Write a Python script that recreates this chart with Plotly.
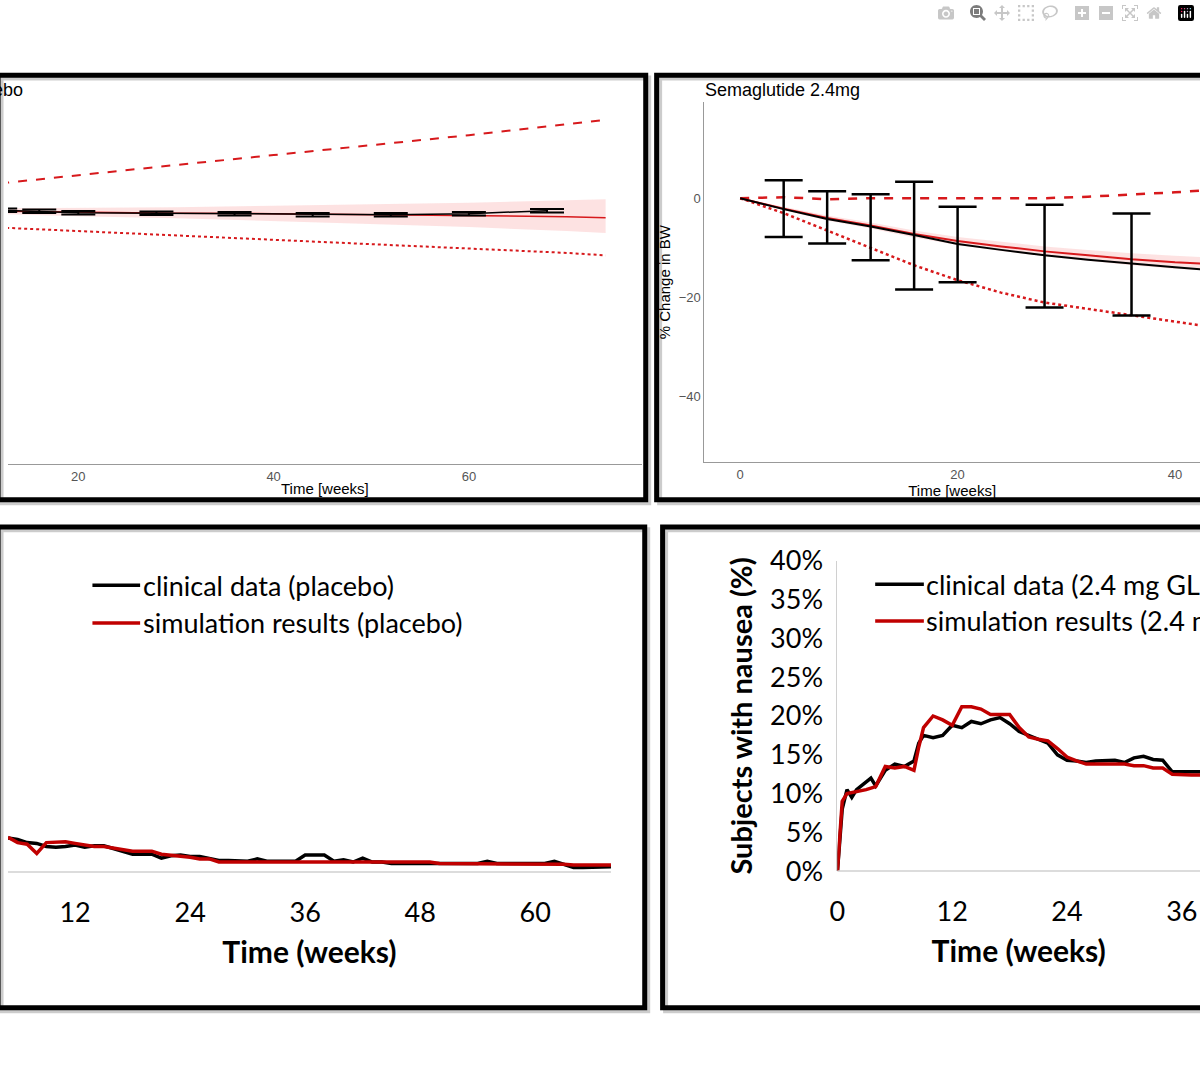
import plotly.graph_objects as go

W, H = 1200, 1080

# ---- top left: placebo body weight ----
pb_t = [12, 20, 30, 40, 50, 60, 70, 74]
pb_sim = [-2.6, -2.8, -3.0, -3.1, -3.3, -3.4, -3.7, -3.9]
pb_lo = [-3.2, -3.6, -4.0, -4.6, -5.2, -5.8, -6.6, -7.0]
pb_hi = [-2.0, -1.9, -1.8, -1.5, -1.2, -0.9, -0.4, -0.2]
pb_p95 = [3.0, 4.7, 6.7, 8.7, 10.7, 12.7, 14.9, 15.8]
pb_p5 = [-5.9, -6.6, -7.5, -8.4, -9.3, -10.1, -11.0, -11.5]
pb_obs_t = [12, 16, 20, 28, 36, 44, 52, 60, 68]
pb_obs = [-2.4, -2.6, -2.9, -3.0, -3.1, -3.3, -3.3, -3.1, -2.5]

# ---- top right: semaglutide body weight ----
sg_t = [0, 4, 8, 12, 16, 20, 24, 28, 32, 36, 40, 43]
sg_obs_line = [0, -2.2, -4.2, -5.7, -7.4, -9.2, -10.4, -11.5, -12.4, -13.2, -13.9, -14.4]
sg_sim = [0, -2.1, -4.0, -5.5, -7.2, -8.6, -9.7, -10.7, -11.5, -12.3, -12.9, -13.2]
sg_band = [0, 0.3, 0.5, 0.6, 0.7, 0.8, 0.9, 1.0, 1.1, 1.2, 1.3, 1.3]
sg_p95 = [0, 0.2, -0.2, 0, 0, 0, 0, 0, 0.3, 0.7, 1.2, 1.6]
sg_p5 = [0, -3, -6.5, -10, -13.5, -16.5, -19, -21, -22.3, -23.5, -24.8, -25.8]
sg_bar_t = [4, 8, 12, 16, 20, 28, 36]
sg_bar_top = [3.6, 1.4, 0.8, 3.3, -1.7, -1.3, -3.1]
sg_bar_bot = [-7.8, -9.1, -12.5, -18.4, -16.9, -22.0, -23.6]

# ---- bottom left: nausea placebo ----
pl_t = list(range(5, 69))
pl_clin = [4.4, 4.2, 3.8, 3.7, 3.3, 3.2, 3.3, 3.5, 3.2, 3.4, 3.4, 3.0, 2.7, 2.3, 2.3, 2.3,
           1.8, 2.1, 2.2, 2.0, 2.0, 1.7, 1.5, 1.5, 1.5, 1.4, 1.7, 1.4, 1.4, 1.4, 1.4, 2.2,
           2.2, 2.2, 1.4, 1.6, 1.3, 1.8, 1.3, 1.3, 1.1, 1.1, 1.1, 1.1, 1.1, 1.1, 1.1, 1.1,
           1.1, 1.1, 1.4, 1.1, 1.1, 1.1, 1.1, 1.1, 1.1, 1.4, 1.0, 0.6, 0.6, 0.6, 0.6, 0.7]
pl_sim = [4.5, 3.8, 3.6, 2.4, 3.8, 3.9, 3.9, 3.7, 3.5, 3.3, 3.3, 3.1, 2.9, 2.7, 2.7, 2.7,
          2.3, 2.2, 2.0, 1.9, 1.7, 1.7, 1.3, 1.3, 1.3, 1.3, 1.3, 1.3, 1.3, 1.3, 1.3, 1.3,
          1.3, 1.3, 1.3, 1.3, 1.3, 1.3, 1.3, 1.3, 1.3, 1.3, 1.3, 1.3, 1.3, 1.1, 1.1, 1.1,
          1.1, 1.1, 1.1, 1.1, 1.1, 1.1, 1.1, 1.1, 1.1, 1.1, 1.0, 0.9, 0.9, 0.9, 0.9, 0.9]

# ---- bottom right: nausea semaglutide ----
sn_t = [0, 0.5, 1, 1.5, 2, 3, 3.5, 4, 5, 6, 7, 8, 8.5, 9, 10, 11, 12, 13, 14, 15, 16, 17,
        18, 19, 20, 21, 22, 23, 24, 25, 26, 27, 28, 29, 30, 31, 32, 33, 34, 35, 36, 37, 38]
sn_clin = [0, 8, 10.5, 9.5, 10.5, 11.5, 12, 11, 13, 13.8, 13.5, 14.2, 16.5, 17.5, 17.2,
           17.5, 18.8, 18.5, 19.3, 19, 19.5, 19.8, 19, 18, 17.5, 17, 16.5, 15, 14.3, 14.2,
           14, 14.2, 14.3, 14.3, 14, 14.6, 14.8, 14.4, 14.3, 12.8, 12.8, 12.8, 12.8]
sn_sim = [0, 9, 10, 10.1, 10.2, 10.5, 10.7, 10.9, 13.5, 13.3, 13.5, 13, 16, 18.5, 20,
          19.5, 18.8, 21.2, 21.2, 20.9, 20.2, 20.2, 20.2, 18.5, 17.3, 17, 16.8, 15.8, 14.7,
          14.2, 13.8, 13.8, 13.8, 13.8, 13.8, 13.6, 13.6, 13.3, 13.3, 12.5, 12.4, 12.4, 12.4]
pct_ticks = [0, 5, 10, 15, 20, 25, 30, 35, 40]

RED = '#d7191c'
DARKRED = '#c00000'
GREY = '#555555'


def px(x):
    return x / W


def py(y):
    return 1 - y / H


fig = go.Figure()

# top left
fig.add_trace(go.Scatter(x=pb_t + pb_t[::-1], y=pb_hi + pb_lo[::-1], fill='toself', mode='lines',
                         fillcolor='rgba(240,60,60,0.15)', line=dict(width=0),
                         xaxis='x', yaxis='y', hoverinfo='skip'))
fig.add_trace(go.Scatter(x=pb_t, y=pb_p95, mode='lines', line=dict(color=RED, width=2, dash='dash'),
                         xaxis='x', yaxis='y'))
fig.add_trace(go.Scatter(x=pb_t, y=pb_p5, mode='lines', line=dict(color=RED, width=2, dash='dot'),
                         xaxis='x', yaxis='y'))
fig.add_trace(go.Scatter(x=pb_t, y=pb_sim, mode='lines', line=dict(color=RED, width=1.5),
                         xaxis='x', yaxis='y'))
fig.add_trace(go.Scatter(x=pb_obs_t, y=pb_obs, mode='lines', line=dict(color='black', width=1.5),
                         error_y=dict(type='constant', value=0.35, color='black', thickness=2, width=17),
                         xaxis='x', yaxis='y'))

# top right
lo = [s - b for s, b in zip(sg_sim, sg_band)]
hi = [s + b for s, b in zip(sg_sim, sg_band)]
fig.add_trace(go.Scatter(x=sg_t + sg_t[::-1], y=hi + lo[::-1], fill='toself', mode='lines',
                         fillcolor='rgba(240,60,60,0.15)', line=dict(width=0),
                         xaxis='x2', yaxis='y2', hoverinfo='skip'))
fig.add_trace(go.Scatter(x=sg_t, y=sg_p95, mode='lines', line=dict(color=RED, width=2.5, dash='dash'),
                         xaxis='x2', yaxis='y2'))
fig.add_trace(go.Scatter(x=sg_t, y=sg_p5, mode='lines', line=dict(color=RED, width=2.5, dash='dot'),
                         xaxis='x2', yaxis='y2'))
fig.add_trace(go.Scatter(x=sg_t, y=sg_sim, mode='lines', line=dict(color=RED, width=2),
                         xaxis='x2', yaxis='y2'))
fig.add_trace(go.Scatter(x=sg_t, y=sg_obs_line, mode='lines', line=dict(color='black', width=2),
                         xaxis='x2', yaxis='y2'))
mid = [(a + b) / 2 for a, b in zip(sg_bar_top, sg_bar_bot)]
half = [(a - b) / 2 for a, b in zip(sg_bar_top, sg_bar_bot)]
fig.add_trace(go.Scatter(x=sg_bar_t, y=mid, mode='markers', marker=dict(size=1, color='black'),
                         error_y=dict(type='data', array=half, color='black', thickness=2.5, width=19),
                         xaxis='x2', yaxis='y2'))

# bottom left
fig.add_trace(go.Scatter(x=pl_t, y=pl_clin, mode='lines', line=dict(color='black', width=3.5),
                         xaxis='x3', yaxis='y3'))
fig.add_trace(go.Scatter(x=pl_t, y=pl_sim, mode='lines', line=dict(color=DARKRED, width=3.5),
                         xaxis='x3', yaxis='y3'))

# bottom right
fig.add_trace(go.Scatter(x=sn_t, y=sn_clin, mode='lines', line=dict(color='black', width=3.5),
                         xaxis='x4', yaxis='y4'))
fig.add_trace(go.Scatter(x=sn_t, y=sn_sim, mode='lines', line=dict(color=DARKRED, width=3.5),
                         xaxis='x4', yaxis='y4'))

rfont = dict(family='Arial', size=13, color=GREY)
rtitle = dict(family='Arial', size=15, color='black')
cfont = dict(family='Lato', size=27, color='black')

fig.update_layout(
    width=W, height=H, margin=dict(l=0, r=0, t=0, b=0),
    paper_bgcolor='white', plot_bgcolor='white', showlegend=False,
    xaxis=dict(domain=[px(0), px(638)], range=[12.8, 77.7], tickvals=[20, 40, 60],
               showline=True, linecolor='#999999', showgrid=False, zeroline=False,
               tickfont=rfont, ticks='', anchor='y',
               title=dict(text='Time [weeks]', font=rtitle, standoff=0)),
    yaxis=dict(domain=[py(460), py(62)], range=[-53.5, 24.2], visible=False, anchor='x'),
    xaxis2=dict(domain=[px(701), px(1200)], range=[-3.3, 42.3], tickvals=[0, 20, 40],
                showline=True, linecolor='#999999', showgrid=False, zeroline=False,
                tickfont=rfont, ticks='', anchor='y2',
                title=dict(text='Time [weeks]', font=rtitle, standoff=0)),
    yaxis2=dict(domain=[py(458), py(87)], range=[-53.1, 19.3], tickvals=[0, -20, -40],
                showline=True, linecolor='#999999', showgrid=False, zeroline=False,
                tickfont=rfont, ticks='', anchor='x2',
                title=dict(text='% Change in BW', font=rtitle, standoff=4)),
    xaxis3=dict(domain=[px(0), px(607)], range=[5.0, 67.9], tickvals=[12, 24, 36, 48, 60],
                showline=False, showgrid=False, zeroline=False, ticks='', anchor='y3',
                tickfont=cfont, ticklabelstandoff=22,
                title=dict(text='<b>Time (weeks)</b>', font=dict(family='Lato', size=30, color='black'), standoff=14)),
    yaxis3=dict(domain=[py(881), py(561)], range=[0, 40], visible=False, anchor='x3'),
    xaxis4=dict(domain=[px(835), px(1200)], range=[0, 37.9], tickvals=[0, 12, 24, 36],
                showline=False, showgrid=False, zeroline=False, ticks='', anchor='y4',
                tickfont=cfont, ticklabelstandoff=22,
                title=dict(text='<b>Time (weeks)</b>', font=dict(family='Lato', size=30, color='black'), standoff=14)),
    yaxis4=dict(domain=[py(880), py(560)], range=[0, 40], tickvals=pct_ticks,
                ticktext=[f'{v}%' for v in pct_ticks], showline=True, linecolor='#d0d0d0',
                showgrid=False, zeroline=False, ticks='', tickfont=cfont, anchor='x4',
                ticklabelstandoff=8,
                title=dict(text='<b>Subjects with nausea (%)</b>', font=dict(family='Lato', size=29, color='black'), standoff=8)),
)

# baselines for the nausea charts
shapes = [dict(type='line', xref='paper', yref='paper', x0=px(0), x1=px(607), y0=py(881), y1=py(881),
               line=dict(color='#d0d0d0', width=1.5)),
          dict(type='line', xref='paper', yref='paper', x0=px(835), x1=px(1200), y0=py(880), y1=py(880),
               line=dict(color='#d0d0d0', width=1.5))]

# panel frames
for x0, x1, y0, y1 in [(-10, 642, 59, 497), (653, 1215, 59, 497), (-10, 641, 525, 1021), (659, 1215, 525, 1021)]:
    shapes.append(dict(type='rect', xref='paper', yref='paper', x0=px(x0 + 3), x1=px(x1 + 3),
                       y0=py(y0 + 3), y1=py(y1 + 3), line=dict(color='rgba(0,0,0,0.2)', width=5)))
    shapes.append(dict(type='rect', xref='paper', yref='paper', x0=px(x0), x1=px(x1),
                       y0=py(y0), y1=py(y1), line=dict(color='black', width=5)))

# legend keys
for x0, x1, y, c in [(85, 133, 585, 'black'), (85, 133, 624, DARKRED),
                     (873, 922, 584, 'black'), (873, 922, 622, DARKRED)]:
    shapes.append(dict(type='line', xref='paper', yref='paper', x0=px(x0), x1=px(x1),
                       y0=py(y), y1=py(y), line=dict(color=c, width=3.5)))
fig.update_layout(shapes=shapes)

ann = [
    dict(text='Placebo', x=px(17), y=py(74), xanchor='right', font=dict(family='Arial', size=18, color='black')),
    dict(text='Semaglutide 2.4mg', x=px(700), y=py(74), xanchor='left', font=dict(family='Arial', size=18, color='black')),
    dict(text='clinical data (placebo)', x=px(134), y=py(585), xanchor='left', font=cfont),
    dict(text='simulation results (placebo)', x=px(134), y=py(624), xanchor='left', font=cfont),
    dict(text='clinical data (2.4 mg GLP-1)', x=px(922), y=py(584), xanchor='left', font=cfont),
    dict(text='simulation results (2.4 mg GLP-1)', x=px(922), y=py(622), xanchor='left', font=cfont),
]
for a in ann:
    a.update(xref='paper', yref='paper', yanchor='middle', showarrow=False)
fig.update_layout(annotations=ann)

fig.write_html("out.html",
               post_script="document.body.style.margin='0';document.documentElement.style.overflow='hidden';")
